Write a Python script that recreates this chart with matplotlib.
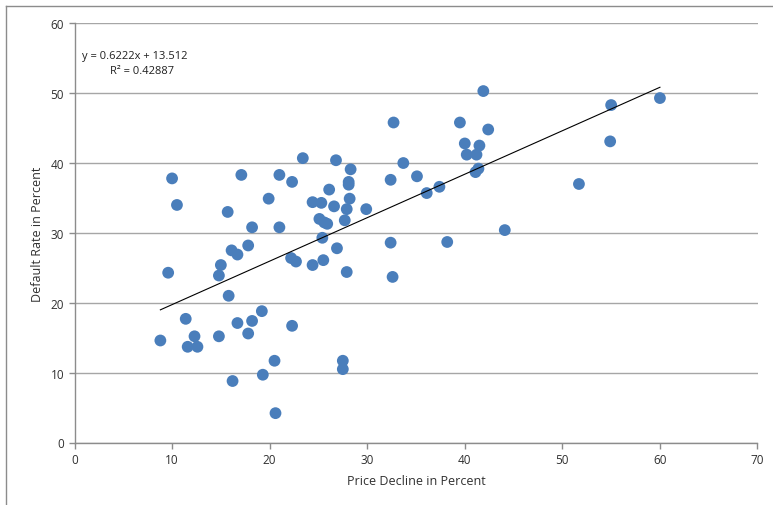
import numpy as np
import matplotlib
matplotlib.use("Agg")
import matplotlib.pyplot as plt
from matplotlib.lines import Line2D

price_decline = [
    8.8, 9.6, 10.0, 10.5, 11.4, 11.6, 12.6, 12.3, 14.8, 15.0,
    14.8, 15.7, 15.8, 16.1, 16.7, 16.2, 16.7, 17.1, 17.8, 17.8,
    18.2, 18.2, 19.2, 19.3, 19.9, 20.5, 20.6, 21.0, 21.0, 22.2,
    22.7, 22.3, 22.3, 23.4, 24.4, 25.3, 24.4, 25.1, 25.6, 25.9,
    25.4, 25.5, 26.1, 26.6, 26.8, 26.9, 27.7, 27.9, 27.9, 27.5,
    27.5, 28.1, 28.1, 28.2, 28.3, 29.9, 32.4, 32.4, 32.6, 32.7,
    33.7, 35.1, 36.1, 37.4, 38.2, 39.5, 40.0, 40.2, 41.1, 41.4,
    41.2, 41.5, 41.9, 42.4, 44.1, 51.7, 54.9, 55.0, 60.0,
]
default_rate = [
    14.6, 24.3, 37.8, 34.0, 17.7, 13.7, 13.7, 15.2, 23.9, 25.4,
    15.2, 33.0, 21.0, 27.5, 26.9, 8.8, 17.1, 38.3, 28.2, 15.6,
    30.8, 17.4, 18.8, 9.7, 34.9, 11.7, 4.2, 38.3, 30.8, 26.4,
    25.9, 37.3, 16.7, 40.7, 34.4, 34.3, 25.4, 32.0, 31.5, 31.3,
    29.3, 26.1, 36.2, 33.8, 40.4, 27.8, 31.8, 33.4, 24.4, 11.7,
    10.5, 37.3, 36.9, 34.9, 39.1, 33.4, 37.6, 28.6, 23.7, 45.8,
    40.0, 38.1, 35.7, 36.6, 28.7, 45.8, 42.8, 41.2, 38.7, 39.2,
    41.2, 42.5, 50.3, 44.8, 30.4, 37.0, 43.1, 48.3, 49.3,
]
slope = 0.6222
intercept = 13.512
r_squared = 0.42887
x_ticks = [0, 10, 20, 30, 40, 50, 60, 70]
y_ticks = [0, 10, 20, 30, 40, 50, 60]

plt.rcParams['font.family'] = ['Open Sans', 'DejaVu Sans']

W, H = 773, 506
fig = plt.figure(figsize=(W / 100, H / 100), dpi=100)
fig.patch.set_facecolor('white')

left, right, top, bottom = 74.5, 757.5, 24.3, 443.5
ax = fig.add_axes([left / W, (H - bottom) / H, (right - left) / W, (bottom - top) / H])

ax.set_xlim(0, 70)
ax.set_ylim(0, 60)
ax.set_xticks(x_ticks)
ax.set_yticks(y_ticks)
ax.grid(axis='y', color='#a6a6a6', linewidth=1.0)
ax.set_axisbelow(True)
for s in ['top', 'right']:
    ax.spines[s].set_visible(False)
for s in ['left', 'bottom']:
    ax.spines[s].set_color('#8c8c8c')
    ax.spines[s].set_linewidth(1.0)
ax.tick_params(axis='both', colors='#8c8c8c', labelcolor='#303030', labelsize=8.5,
               length=4, width=1, direction='out')

ax.scatter(price_decline, default_rate, s=72, color='#4a7ebb', edgecolors='none', zorder=3)

xs = np.array([min(price_decline), max(price_decline)])
ax.plot(xs, slope * xs + intercept, color='black', linewidth=0.8, zorder=4)

ax.set_xlabel('Price Decline in Percent', fontsize=9, color='#303030', labelpad=6)
ax.set_ylabel('Default Rate in Percent', fontsize=9, color='#303030', labelpad=5)

ax.text(135 / W, (H - 56) / H, f'y = {slope:.4f}x + {intercept:.3f}',
        transform=fig.transFigure, ha='center', va='center', fontsize=8, color='#202020')
ax.text(142 / W, (H - 72) / H, f'R² = {r_squared:.5f}',
        transform=fig.transFigure, ha='center', va='center', fontsize=8, color='#202020')

# chart frame (left and top edges visible)
fig.add_artist(Line2D([6 / W, 6 / W], [0, (H - 7) / H], transform=fig.transFigure,
                      color='#8c8c8c', linewidth=1.0))
fig.add_artist(Line2D([6 / W, 1], [(H - 7) / H, (H - 7) / H], transform=fig.transFigure,
                      color='#8c8c8c', linewidth=1.0))

fig.savefig('out.png', dpi=100, facecolor='white')
